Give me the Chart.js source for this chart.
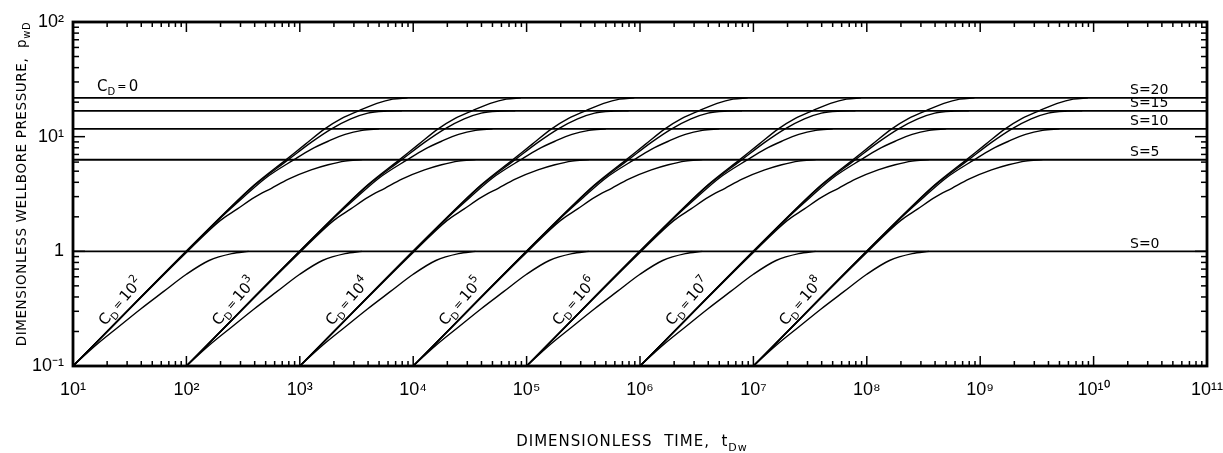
<!DOCTYPE html>
<html><head><meta charset="utf-8">
<script src="https://cdn.jsdelivr.net/npm/chart.js@4.4.1/dist/chart.umd.min.js"></script>
<style>html,body{margin:0;padding:0;background:#fff;}canvas{display:block;}</style>
</head><body>
<canvas id="c" width="1223" height="453"></canvas>
<script>
// ---------------- data ----------------
const cdExponents = [2, 3, 4, 5, 6, 7, 8];          // C_D = 10^n
const skinValues  = [0, 5, 10, 15, 20];
const plateauPwD  = [1.0, 6.3, 11.7, 16.8, 21.8];   // C_D = 0 lines (S = 0,5,10,15,20)
const s0U  = [0.1, 0.158, 0.251, 0.398, 0.631, 1.0, 1.585, 2.512, 3.548];
const s0P  = [0.1, 0.151, 0.219, 0.316, 0.447, 0.631, 0.832, 0.955, 1.0];
const s5U  = [0.1, 1.0, 1.995, 2.818, 3.981, 5.623, 7.943, 12.59, 17.78, 25.12, 35.48];
const s5P  = [0.1, 0.977, 1.862, 2.344, 2.951, 3.548, 4.266, 5.129, 5.689, 6.124, 6.3];
const s10U = [0.1, 1.995, 3.162, 5.012, 8.913, 12.59, 17.78, 25.12, 35.48, 50.12];
const s10P = [0.1, 1.95, 2.951, 4.365, 6.31, 7.762, 9.12, 10.47, 11.35, 11.7];
const s15U = [0.1, 2.512, 3.981, 7.943, 12.59, 19.05, 28.18, 39.81, 56.23, 79.43];
const s15P = [0.1, 2.455, 3.758, 6.31, 8.913, 11.7, 14.29, 16.03, 16.67, 16.8];
const s20U = [0.1, 2.512, 3.981, 7.586, 11.22, 16.60, 23.44, 33.11, 47.86, 66.07, 89.13];
const s20P = [0.1, 2.483, 3.802, 6.31, 8.610, 11.7, 14.45, 16.8, 19.5, 21.23, 21.8];

const xTickValues = [1e1, 1e2, 1e3, 1e4, 1e5, 1e6, 1e7, 1e8, 1e9, 1e10, 1e11];
const xTickLabels = ['10¹','10²','10³','10⁴','10⁵','10⁶','10⁷','10⁸','10⁹','10¹⁰','10¹¹'];
const yTickValues = [0.1, 1, 10, 100];
const yTickLabels = ['10⁻¹','1','10¹','10²'];
const skinLabels  = ['S=0','S=5','S=10','S=15','S=20'];
const xTitle = 'DIMENSIONLESS  TIME,  t';
const xTitleSub = 'Dw';
const yTitle = 'DIMENSIONLESS WELLBORE PRESSURE,  p';
const yTitleSub = 'wD';

// ---------------- build datasets ----------------
const shapes = [[s0U, s0P], [s5U, s5P], [s10U, s10P], [s15U, s15P], [s20U, s20P]];
const datasets = [];
cdExponents.forEach(n => {
  const cd = Math.pow(10, n);
  shapes.forEach(([u, p]) => {
    datasets.push({
      data: u.map((v, i) => ({ x: v * cd, y: p[i] })),
      borderColor: '#000', borderWidth: 1.4, pointRadius: 0, showLine: true,
      cubicInterpolationMode: 'monotone', fill: false
    });
  });
});
plateauPwD.forEach(p => {
  datasets.push({
    data: [{ x: xTickValues[0], y: p }, { x: xTickValues[xTickValues.length - 1], y: p }],
    borderColor: '#000', borderWidth: 1.9, pointRadius: 0, showLine: true, fill: false
  });
});

const FONT = 'DejaVu Sans';
function richWidth(ctx, parts) {
  let w = 0;
  parts.forEach(p => { ctx.font = p.f; w += ctx.measureText(p.t).width; });
  return w;
}
function drawRich(ctx, parts, x, y) {
  let cx = x;
  parts.forEach(p => { ctx.font = p.f; ctx.fillText(p.t, cx, y + (p.dy || 0)); cx += ctx.measureText(p.t).width; });
}

const decor = {
  id: 'decor',
  afterDraw(chart) {
    const { ctx, chartArea: a, scales: { x, y } } = chart;
    ctx.save();
    ctx.strokeStyle = '#000'; ctx.fillStyle = '#000';
    const seg = (x1, y1, x2, y2) => { ctx.beginPath(); ctx.moveTo(x1, y1); ctx.lineTo(x2, y2); ctx.stroke(); };
    // inward tick marks on all four sides
    ctx.lineWidth = 1.5;
    for (let e = 1; e <= 10; e++) {
      for (let m = 1; m <= 9; m++) {
        const v = m * Math.pow(10, e);
        const px = x.getPixelForValue(v);
        const len = m === 1 ? 10 : 5;
        seg(px, a.bottom, px, a.bottom - len);
        seg(px, a.top, px, a.top + len);
      }
    }
    for (let e = -1; e <= 1; e++) {
      for (let m = 1; m <= 9; m++) {
        const v = m * Math.pow(10, e);
        const py = y.getPixelForValue(v);
        const len = m === 1 ? 12 : 6;
        seg(a.left, py, a.left + len, py);
        seg(a.right, py, a.right - len, py);
      }
    }
    // frame
    ctx.lineWidth = 2.8;
    ctx.strokeRect(a.left, a.top, a.right - a.left, a.bottom - a.top);

    // C_D labels along the unit-slope lines
    ctx.textBaseline = 'alphabetic';
    const eqPart = { t: '\u2009=\u2009', f: '11px ' + FONT, dy: -1 };
    cdExponents.forEach(n => {
      const cd = Math.pow(10, n);
      const px = x.getPixelForValue(0.26 * cd), py = y.getPixelForValue(0.37);
      const parts = [
        { t: 'C', f: '15px ' + FONT },
        { t: 'D', f: '10px ' + FONT, dy: 4 },
        eqPart,
        { t: '10', f: '15px ' + FONT },
        { t: String(n), f: '11px ' + FONT, dy: -7 }
      ];
      const w = richWidth(ctx, parts);
      ctx.save();
      ctx.translate(px, py);
      ctx.rotate(-48.7 * Math.PI / 180);
      drawRich(ctx, parts, -w / 2, 5.5);
      ctx.restore();
    });
    // C_D = 0 label
    drawRich(ctx, [
      { t: 'C', f: '15px ' + FONT },
      { t: 'D', f: '10px ' + FONT, dy: 4 },
      eqPart,
      { t: '0', f: '15px ' + FONT }
    ], a.left + 24, y.getPixelForValue(plateauPwD[4]) - 7);

    // skin labels
    ctx.font = '14px ' + FONT;
    skinLabels.forEach((s, i) => {
      ctx.fillText(s, a.right - 77, y.getPixelForValue(plateauPwD[i]) - 3.5);
    });

    // axis titles
    ctx.letterSpacing = '1px';
    const xp = [{ t: xTitle, f: '15px ' + FONT }, { t: xTitleSub, f: '11px ' + FONT, dy: 5 }];
    const xw = richWidth(ctx, xp);
    drawRich(ctx, xp, 632 - xw / 2, 446);
    ctx.letterSpacing = '0.6px';
    const yp = [{ t: yTitle, f: '13.5px ' + FONT }, { t: yTitleSub, f: '10px ' + FONT, dy: 4 }];
    const yw = richWidth(ctx, yp);
    ctx.translate(26, 184);
    ctx.rotate(-Math.PI / 2);
    drawRich(ctx, yp, -yw / 2, 0);
    ctx.restore();
  }
};

Chart.defaults.color = '#000';
new Chart(document.getElementById('c'), {
  type: 'scatter',
  data: { datasets },
  plugins: [decor],
  options: {
    responsive: false, animation: false,
    layout: { padding: { left: 0, right: 16, top: 22, bottom: 0 } },
    plugins: { legend: { display: false }, tooltip: { enabled: false } },
    elements: { line: { tension: 0 } },
    scales: {
      x: {
        type: 'logarithmic', min: xTickValues[0], max: xTickValues[xTickValues.length - 1],
        afterBuildTicks: s => { s.ticks = xTickValues.map(v => ({ value: v })); },
        afterFit: s => { s.height = 87; s.paddingLeft = 0; s.paddingRight = 0; },
        grid: { display: false, drawTicks: false }, border: { display: false },
        ticks: { autoSkip: false, maxRotation: 0, minRotation: 0, padding: 13, color: '#000',
          font: { family: 'Liberation Sans', size: 18 },
          callback: (v, i) => xTickLabels[i] }
      },
      y: {
        type: 'logarithmic', min: yTickValues[0], max: yTickValues[yTickValues.length - 1],
        afterBuildTicks: s => { s.ticks = yTickValues.map(v => ({ value: v })); },
        afterFit: s => { s.width = 73; s.paddingTop = 0; s.paddingBottom = 0; },
        grid: { display: false, drawTicks: false }, border: { display: false },
        ticks: { autoSkip: false, padding: 9, color: '#000',
          font: { family: 'Liberation Sans', size: 18 },
          callback: (v, i) => yTickLabels[i] }
      }
    }
  }
});
</script>
</body></html>
